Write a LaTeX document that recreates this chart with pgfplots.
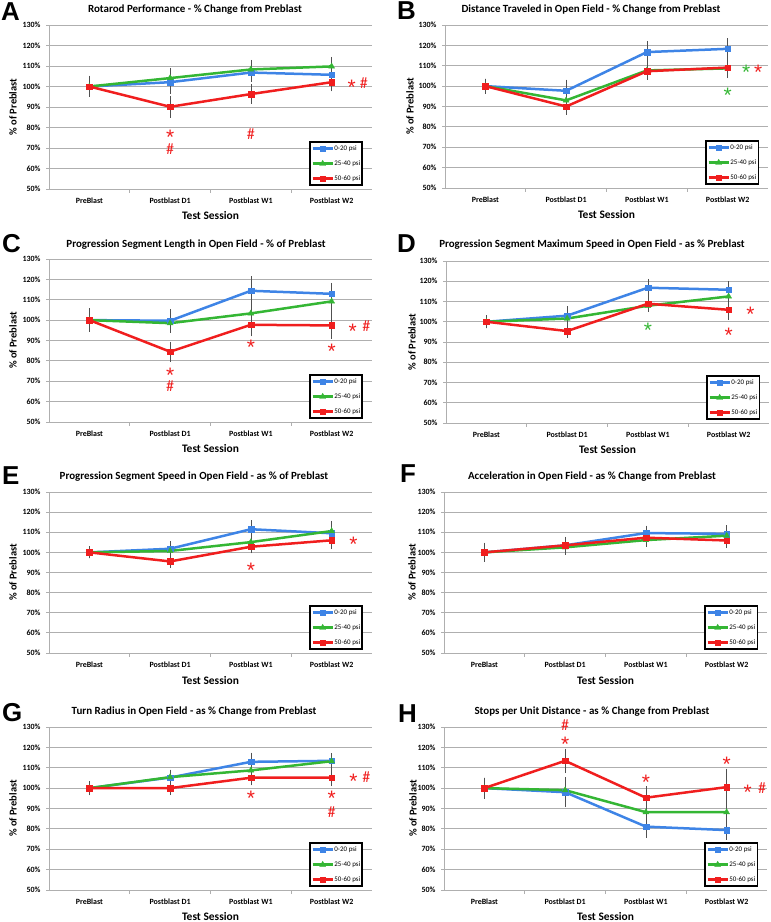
\documentclass[border=0pt]{standalone}
\usepackage{fontspec}
\setmainfont{Carlito}
\newfontfamily\letterfont{Liberation Sans}
\usepackage{pgfplots}
\pgfplotsset{compat=1.18}

\definecolor{cblue}{RGB}{62,132,230}
\definecolor{cgreen}{RGB}{52,182,52}
\definecolor{cred}{RGB}{240,30,30}
\definecolor{cgrid}{RGB}{175,175,175}
\definecolor{cerr}{RGB}{80,80,80}

\pgfplotsset{
  panel/.style={
    scale only axis, width=323bp, height=163bp, anchor=south west, clip=false,
    xmin=-0.5, xmax=3.5, ymin=50, ymax=130,
    xtick={0,1,2,3},
    xticklabels={PreBlast,Postblast D1,Postblast W1,Postblast W2},
    minor xtick={0.5,1.5,2.5},
    ytick={50,60,70,80,90,100,110,120,130},
    yticklabels={50\%,60\%,70\%,80\%,90\%,100\%,110\%,120\%,130\%},
    axis x line*=bottom, axis y line*=left,
    axis line style={cgrid, line width=0.8bp, -},
    ymajorgrids, grid style={cgrid, line width=0.8bp},
    tick align=outside,
    major x tick style={draw=none},
    minor x tick style={cgrid, line width=0.8bp},
    major y tick style={cgrid, line width=0.8bp},
    major tick length=3bp, minor tick length=4bp,
    ticklabel style={font=\fontsize{8}{9}\selectfont\bfseries},
    yticklabel style={xshift=-2bp},
    xticklabel style={yshift=-2.5bp},
    legend style={at={(rel axis cs:1,0)}, anchor=south east, xshift=-9bp, yshift=3bp,
      draw=black, line width=1.5bp, fill=white, font=\fontsize{7}{8}\selectfont,
      inner xsep=1.5bp, inner ysep=2.5bp, row sep=7bp,
      nodes={inner sep=0.5bp, text height=5.5bp, text depth=1.5bp}},
    legend cell align=left,
    legend image code/.code={\draw[mark repeat=2,mark phase=2] plot coordinates {(0bp,0bp)(10bp,0bp)(20bp,0bp)};},
  },
  common/.style={line width=2.5bp, mark options={solid, line width=0.3bp},
    /pgfplots/error bars/y dir=both, /pgfplots/error bars/y explicit,
    /pgfplots/error bars/error bar style={cerr, line width=0.6bp},
    /pgfplots/error bars/error mark options={cerr, line width=0.6bp, mark size=2.5bp}},
  sb/.style={cblue, mark=square*, mark size=2.8bp, common},
  sg/.style={cgreen, mark=triangle*, mark size=3.5bp, common},
  sr/.style={cred, mark=square*, mark size=2.8bp, common},
}
\tikzset{
  ann/.style={font=\fontsize{16}{16}\selectfont, inner sep=0pt},
  annst/.style={font=\letterfont\fontsize{21}{21}\selectfont, inner sep=0pt, yshift=-4.5bp},
  ttl/.style={font=\fontsize{11}{12}\selectfont\bfseries},
  ylab/.style={rotate=90, font=\fontsize{10.5}{12}\selectfont\bfseries},
  xlab/.style={font=\fontsize{11.5}{12}\selectfont\bfseries},
  let/.style={anchor=base west, inner sep=0pt, font=\letterfont\bfseries\fontsize{26}{26}\selectfont},
}
\newcommand\stR[2]{\node[annst, text=cred] at (axis cs:#1,#2) {*};}
\newcommand\stG[2]{\node[annst, text=cgreen] at (axis cs:#1,#2) {*};}
\newcommand\hsR[2]{\node[ann, text=cred] at (axis cs:#1,#2) {\#};}

\begin{document}
\begin{tikzpicture}
\useasboundingbox (0,0) rectangle (771bp,922bp);

% ---------- A ----------
\node[let] at (1bp,901bp) {A};
\node[ttl] at (195bp,912bp) {Rotarod Performance - \% Change from Preblast};
\node[ylab] at (13bp,815bp) {\% of Preblast};
\node[xlab] at (210.5bp,706bp) {Test Session};
\begin{axis}[panel, at={(49bp,733bp)}, height=164bp]
\addplot[sb] coordinates {(0,100) +- (0,3.9) (1,102.1) +- (0,4.5) (2,106.8) +- (0,3.2) (3,105.7) +- (0,2.5)};
\addplot[sg] coordinates {(0,100) +- (0,3.9) (1,104.1) +- (0,3.8) (2,108.3) +- (0,3.5) (3,109.8) +- (0,3.4)};
\addplot[sr] coordinates {(0,100) +- (0,3.9) (1,90.1) +- (0,4.1) (2,96.3) +- (0,3.6) (3,102.1) +- (0,3.3)};
\legend{0-20 psi,25-40 psi,50-60 psi}
\stR{1}{77.6} \hsR{1}{69.3} \hsR{2}{76.6} \stR{3.25}{101.8} \hsR{3.40}{101.8}
\end{axis}

% ---------- B ----------
\node[let] at (397bp,902bp) {B};
\node[ttl] at (591bp,912bp) {Distance Traveled in Open Field - \% Change from Preblast};
\node[ylab] at (410bp,815.5bp) {\% of Preblast};
\node[xlab] at (606.5bp,707bp) {Test Session};
\begin{axis}[panel, at={(445bp,734bp)}]
\addplot[sb] coordinates {(0,100) +- (0,2.5) (1,97.7) +- (0,4.3) (2,116.7) +- (0,4.2) (3,118.3) +- (0,3.9)};
\addplot[sg] coordinates {(0,100) +- (0,2.5) (1,93.0) +- (0,3.0) (2,107.7) +- (0,2.8) (3,108.7) +- (0,3.6)};
\addplot[sr] coordinates {(0,100) +- (0,2.5) (1,90.0) +- (0,2.8) (2,107.3) +- (0,3.0) (3,109.1) +- (0,3.6)};
\legend{0-20 psi,25-40 psi,50-60 psi}
\stG{3.23}{109.1} \stR{3.38}{109.1} \stG{3}{97.9}
\end{axis}

% ---------- C ----------
\node[let] at (2bp,669bp) {C};
\node[ttl] at (196bp,677bp) {Progression Segment Length in Open Field - \% of Preblast};
\node[ylab] at (13bp,581.5bp) {\% of Preblast};
\node[xlab] at (210.5bp,473bp) {Test Session};
\begin{axis}[panel, at={(49bp,500bp)}]
\addplot[sb] coordinates {(0,100) +- (0,4.5) (1,99.7) +- (0,4.3) (2,114.4) +- (0,5.9) (3,112.9) +- (0,4.1)};
\addplot[sg] coordinates {(0,100) +- (0,4.5) (1,98.5) +- (0,3.5) (2,103.3) +- (0,3.0) (3,109.2) +- (0,5.8)};
\addplot[sr] coordinates {(0,100) +- (0,4.5) (1,84.5) +- (0,3.7) (2,97.7) +- (0,4.5) (3,97.4) +- (0,5.4)};
\legend{0-20 psi,25-40 psi,50-60 psi}
\stR{1}{75.3} \hsR{1}{67.4} \stR{2}{88.7} \stR{3}{87.1} \stR{3.26}{96.9} \hsR{3.43}{96.9}
\end{axis}

% ---------- D ----------
\node[let] at (397bp,669bp) {D};
\node[ttl] at (592bp,677bp) {Progression Segment Maximum Speed in Open Field - as \% Preblast};
\node[ylab] at (412bp,580bp) {\% of Preblast};
\node[xlab] at (607.5bp,472bp) {Test Session};
\begin{axis}[panel, at={(446bp,499bp)}, height=162bp]
\addplot[sb] coordinates {(0,100) +- (0,2.0) (1,103.0) +- (0,3.4) (2,116.8) +- (0,3.2) (3,115.8) +- (0,3.0)};
\addplot[sg] coordinates {(0,100) +- (0,2.0) (1,101.6) +- (0,2.0) (2,107.9) +- (0,1.8) (3,112.5) +- (0,3.0)};
\addplot[sr] coordinates {(0,100) +- (0,2.0) (1,95.4) +- (0,2.3) (2,108.9) +- (0,2.5) (3,105.9) +- (0,3.6)};
\legend{0-20 psi,25-40 psi,50-60 psi}
\stG{2}{98.2} \stR{3}{95.7} \stR{3.27}{105.9}
\end{axis}

% ---------- E ----------
\node[let] at (2bp,437bp) {E};
\node[ttl] at (194bp,445bp) {Progression Segment Speed in Open Field - as \% of Preblast};
\node[ylab] at (13bp,349.5bp) {\% of Preblast};
\node[xlab] at (210.5bp,241bp) {Test Session};
\begin{axis}[panel, at={(49bp,269bp)}, height=161bp]
\addplot[sb] coordinates {(0,100) +- (0,1.8) (1,101.8) +- (0,2.5) (2,111.5) +- (0,3.3) (3,109.5) +- (0,2.5)};
\addplot[sg] coordinates {(0,100) +- (0,1.8) (1,100.7) +- (0,2.0) (2,105.1) +- (0,2.5) (3,110.6) +- (0,3.8)};
\addplot[sr] coordinates {(0,100) +- (0,1.8) (1,95.5) +- (0,2.0) (2,102.8) +- (0,2.0) (3,106.0) +- (0,3.2)};
\legend{0-20 psi,25-40 psi,50-60 psi}
\stR{2}{93.5} \stR{3.27}{106}
\end{axis}

% ---------- F ----------
\node[let] at (400bp,439bp) {F};
\node[ttl] at (592bp,445bp) {Acceleration in Open Field - as \% Change from Preblast};
\node[ylab] at (412bp,349.5bp) {\% of Preblast};
\node[xlab] at (605.5bp,241bp) {Test Session};
\begin{axis}[panel, at={(444bp,269bp)}, height=161bp]
\addplot[sb] coordinates {(0,100) +- (0,3.5) (1,103.5) +- (0,3.0) (2,109.6) +- (0,2.5) (3,109.2) +- (0,3.0)};
\addplot[sg] coordinates {(0,100) +- (0,3.5) (1,102.5) +- (0,2.5) (2,106.1) +- (0,2.0) (3,108.3) +- (0,2.5)};
\addplot[sr] coordinates {(0,100) +- (0,3.5) (1,103.5) +- (0,3.0) (2,107.3) +- (0,2.0) (3,105.9) +- (0,2.5)};
\legend{0-20 psi,25-40 psi,50-60 psi}
\end{axis}

% ---------- G ----------
\node[let] at (2bp,200bp) {G};
\node[ttl] at (194bp,210bp) {Turn Radius in Open Field - as \% Change from Preblast};
\node[ylab] at (13bp,113.5bp) {\% of Preblast};
\node[xlab] at (210.5bp,5bp) {Test Session};
\begin{axis}[panel, at={(49bp,32bp)}]
\addplot[sb] coordinates {(0,100) +- (0,2.2) (1,105.2) +- (0,2.5) (2,112.9) +- (0,3.3) (3,113.4) +- (0,2.5)};
\addplot[sg] coordinates {(0,100) +- (0,2.2) (1,105.4) +- (0,2.5) (2,108.7) +- (0,2.5) (3,113.2) +- (0,2.5)};
\addplot[sr] coordinates {(0,100) +- (0,2.2) (1,100.0) +- (0,2.2) (2,105.1) +- (0,2.5) (3,105.2) +- (0,3.0)};
\legend{0-20 psi,25-40 psi,50-60 psi}
\stR{2}{97.1} \stR{3}{97.4} \hsR{3}{88.4} \stR{3.27}{105.6} \hsR{3.43}{105.6}
\end{axis}

% ---------- H ----------
\node[let] at (398bp,199bp) {H};
\node[ttl] at (592bp,210bp) {Stops per Unit Distance - as \% Change from Preblast};
\node[ylab] at (413bp,113.5bp) {\% of Preblast};
\node[xlab] at (605.5bp,5bp) {Test Session};
\begin{axis}[panel, at={(444bp,32bp)}]
\addplot[sb] coordinates {(0,100) +- (0,3.9) (1,98.0) +- (0,5.9) (2,81.1) +- (0,4.2) (3,79.4) +- (0,3.4)};
\addplot[sg] coordinates {(0,100) +- (0,3.9) (1,99.0) +- (0,5.0) (2,88.2) +- (0,3.5) (3,88.2) +- (0,4.0)};
\addplot[sr] coordinates {(0,100) +- (0,3.9) (1,113.4) +- (0,4.8) (2,95.3) +- (0,4.4) (3,100.5) +- (0,7.8)};
\legend{0-20 psi,25-40 psi,50-60 psi}
\hsR{1}{130.9} \stR{1}{123.5} \stR{2}{105.2} \stR{3}{113.7} \stR{3.26}{100} \hsR{3.44}{100}
\end{axis}
\end{tikzpicture}
\end{document}
